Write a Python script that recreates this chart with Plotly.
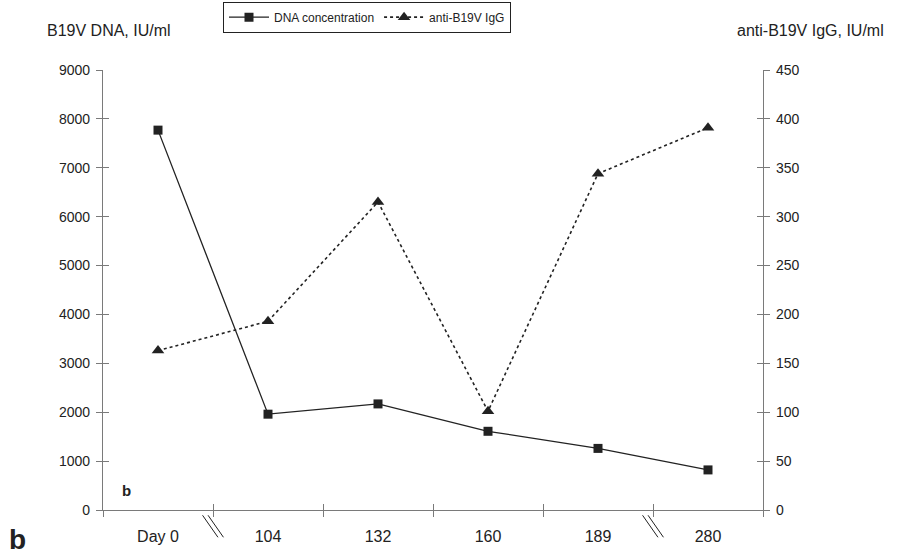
import plotly.graph_objects as go

categories = ["Day 0", "104", "132", "160", "189", "280"]
dna_values = [7770, 1960, 2170, 1610, 1260, 820]
igg_values = [163, 193, 315, 101, 344, 391]
left_ticks = [0, 1000, 2000, 3000, 4000, 5000, 6000, 7000, 8000, 9000]
right_ticks = [0, 50, 100, 150, 200, 250, 300, 350, 400, 450]

FONT = "Liberation Sans, Arial, sans-serif"
INK = "#222222"
AX = "#7a7a7a"

fig = go.Figure()
fig.add_trace(go.Scatter(
    x=categories, y=dna_values, name="DNA concentration", mode="lines+markers",
    line=dict(color=INK, width=1.3), marker=dict(symbol="square", size=9, color=INK),
    xaxis="x", yaxis="y"))
fig.add_trace(go.Scatter(
    x=categories, y=igg_values, name="anti-B19V IgG", mode="lines+markers",
    line=dict(color=INK, width=1.6, dash="dot"), marker=dict(symbol="triangle-up", size=11, color=INK),
    xaxis="x", yaxis="y2"))

# invisible helper traces so that the overlay axes (inner half of the cross ticks) are drawn
fig.add_trace(go.Scatter(x=categories, y=dna_values, xaxis="x2", yaxis="y3", mode="markers",
                         marker=dict(opacity=0, size=1), showlegend=False, hoverinfo="skip"))
fig.add_trace(go.Scatter(x=categories, y=igg_values, xaxis="x2", yaxis="y4", mode="markers",
                         marker=dict(opacity=0, size=1), showlegend=False, hoverinfo="skip"))

common_x = dict(type="category", categoryorder="array", categoryarray=categories,
                range=[-0.5, 5.5], tickson="boundaries", showgrid=False, zeroline=False,
                automargin=False)

fig.update_layout(
    width=906, height=556,
    margin=dict(l=103, r=143, t=70, b=46),
    paper_bgcolor="white", plot_bgcolor="rgba(0,0,0,0)",
    font=dict(family=FONT, size=14, color=INK),
    showlegend=True,
    legend=dict(orientation="h", x=0.40, xanchor="center", xref="paper",
                y=0.997, yanchor="top", yref="container",
                bordercolor=INK, borderwidth=1, font=dict(size=12, color=INK),
                bgcolor="white", itemwidth=40, tracegroupgap=0),
    xaxis=dict(**common_x, showline=True, linecolor=AX, linewidth=1.3,
               ticks="outside", ticklen=6, tickcolor=AX, tickwidth=1,
               tickfont=dict(size=16, color=INK), ticklabelstandoff=12),
    xaxis2=dict(**common_x, overlaying="x", anchor="y3", side="bottom", showline=False,
                ticks="inside", ticklen=6, tickcolor=AX, tickwidth=1,
                showticklabels=False),
    yaxis=dict(range=[0, 9000], tickvals=left_ticks, showgrid=False, zeroline=False,
               showline=True, linecolor=AX, linewidth=1.3, automargin=False,
               ticks="outside", ticklen=6, tickcolor=AX, tickwidth=1,
               tickfont=dict(size=14, color=INK), ticklabelstandoff=3),
    yaxis2=dict(range=[0, 450], tickvals=right_ticks, overlaying="y", side="right",
                anchor="x", showgrid=False, zeroline=False, automargin=False,
                showline=True, linecolor=AX, linewidth=1.3,
                ticks="outside", ticklen=6, tickcolor=AX, tickwidth=1,
                tickfont=dict(size=14, color=INK), ticklabelstandoff=3),
    yaxis3=dict(range=[0, 9000], tickvals=left_ticks, overlaying="y", side="left",
                anchor="x2", showgrid=False, zeroline=False, showline=False, automargin=False,
                ticks="inside", ticklen=6, tickcolor=AX, tickwidth=1, showticklabels=False),
    yaxis4=dict(range=[0, 450], tickvals=right_ticks, overlaying="y", side="right",
                anchor="x2", showgrid=False, zeroline=False, showline=False, automargin=False,
                ticks="inside", ticklen=6, tickcolor=AX, tickwidth=1, showticklabels=False),
)

# axis break marks "//"
for bx in [0.5, 4.5]:
    for off in [-0.025, 0.025]:
        fig.add_shape(type="line", xref="x", yref="paper",
                      x0=bx + off - 0.07, x1=bx + off + 0.07, y0=-0.012, y1=-0.062,
                      line=dict(color=INK, width=1))

fig.add_annotation(text="B19V DNA, IU/ml", xref="paper", yref="paper", x=-0.088, y=1.065,
                   xanchor="left", yanchor="bottom", showarrow=False, font=dict(size=16, color=INK))
fig.add_annotation(text="anti-B19V IgG, IU/ml", xref="paper", yref="paper", x=1.186, y=1.065,
                   xanchor="right", yanchor="bottom", showarrow=False, font=dict(size=16, color=INK))
fig.add_annotation(text="<b>b</b>", xref="paper", yref="paper", x=0.025, y=0.02,
                   xanchor="left", yanchor="bottom", showarrow=False, font=dict(size=15, color=INK))
fig.add_annotation(text="<b>b</b>", xref="paper", yref="paper", x=-0.145, y=-0.068,
                   xanchor="left", yanchor="middle", showarrow=False, font=dict(size=28, color=INK))

fig.write_html("out.html")
